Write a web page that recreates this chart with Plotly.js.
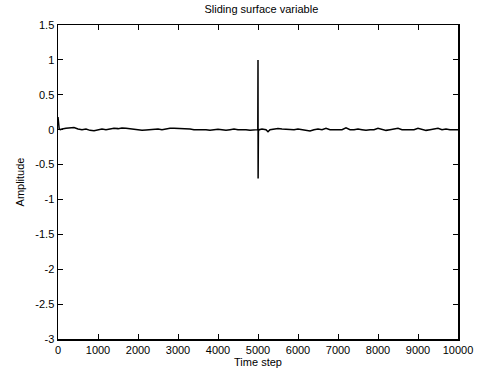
<!DOCTYPE html>
<html>
<head>
<meta charset="utf-8">
<script src="https://cdn.plot.ly/plotly-3.0.1.min.js"></script>
<style>html,body{margin:0;padding:0;background:#fff;}#chart{width:477px;height:374px;}</style>
</head>
<body>
<div id="chart"></div>
<script>
// Time steps and sliding surface amplitude
var timeStep = [0, 10, 30, 60, 100, 200, 300, 350, 400, 500, 600, 700, 800, 900, 1000, 1100, 1200, 1300, 1400, 1500, 1600, 1700, 1800, 1900, 2000, 2100, 2200, 2300, 2400, 2500, 2600, 2700, 2800, 2900, 3000, 3100, 3200, 3300, 3400, 3500, 3600, 3700, 3800, 3900, 4000, 4100, 4200, 4300, 4400, 4500, 4600, 4700, 4800, 4900, 4980, 4995, 5000, 5003, 5006, 5010, 5030, 5100, 5200, 5250, 5300, 5400, 5500, 5600, 5700, 5800, 5900, 6000, 6100, 6200, 6300, 6400, 6500, 6600, 6700, 6800, 6900, 7000, 7100, 7200, 7300, 7400, 7500, 7600, 7700, 7800, 7900, 8000, 8100, 8200, 8300, 8400, 8500, 8600, 8700, 8800, 8900, 9000, 9100, 9200, 9300, 9400, 9500, 9600, 9700, 9800, 9900, 10000];
var amplitude = [0.18, 0.05, 0.01, 0.0, 0.01, 0.02, 0.03, 0.035, 0.03, 0.01, 0.0, 0.01, -0.01, -0.015, 0.0, 0.01, 0.0, 0.01, 0.02, 0.015, 0.025, 0.02, 0.01, 0.0, 0.0, -0.01, -0.005, 0.0, 0.01, 0.01, 0.0, 0.015, 0.02, 0.02, 0.02, 0.015, 0.02, 0.01, 0.0, 0.0, 0.01, 0.0, -0.01, 0.0, 0.005, 0.0, -0.01, 0.0, 0.01, 0.0, 0.005, 0.0, -0.01, 0.0, 0.0, 0.0, 1.0, -0.7, -0.05, -0.02, 0.0, 0.01, 0.0, -0.03, 0.0, 0.01, 0.015, 0.01, 0.005, 0.01, 0.0, 0.01, 0.0, -0.01, -0.02, 0.0, 0.01, 0.0, 0.02, 0.0, 0.0, 0.01, 0.0, 0.025, 0.0, 0.0, 0.01, 0.0, -0.01, 0.0, 0.0, 0.02, 0.0, -0.01, 0.0, 0.01, 0.02, 0.0, 0.0, 0.01, 0.0, 0.02, 0.0, -0.01, 0.0, 0.01, 0.02, 0.0, 0.01, 0.0, 0.005, 0.0];
var xTicks = [0, 1000, 2000, 3000, 4000, 5000, 6000, 7000, 8000, 9000, 10000];
var yTicks = [-3, -2.5, -2, -1.5, -1, -0.5, 0, 0.5, 1, 1.5];
var yTickLabels = ['-3', '-2.5', '-2', '-1.5', '-1', '-0.5', '0', '0.5', '1', '1.5'];
var xTickLabels = xTicks.map(String);

var fontFam = 'Liberation Sans, Arial, sans-serif';
var trace = {
  x: timeStep, y: amplitude, type: 'scatter', mode: 'lines',
  line: {color: '#000000', width: 1.5}, hoverinfo: 'skip'
};
var axisCommon = {
  showgrid: false, zeroline: false, showline: true, mirror: 'ticks',
  linecolor: '#000', linewidth: 1.5, ticks: 'inside', ticklen: 5, tickcolor: '#000', tickwidth: 1,
  tickfont: {family: fontFam, size: 11, color: '#000'}
};
var layout = {
  width: 477, height: 374,
  margin: {l: 58, r: 19, t: 25, b: 35},
  paper_bgcolor: '#fff', plot_bgcolor: '#fff',
  showlegend: false,
  title: {text: 'Sliding surface variable', font: {family: fontFam, size: 11, color: '#000'}, x: 0.548, xanchor: 'center', y: 0.985, yanchor: 'top'},
  xaxis: Object.assign({}, axisCommon, {
    range: [0, 10000], tickvals: xTicks, ticktext: xTickLabels, ticklabelstandoff: 0,
    title: {text: 'Time step', font: {family: fontFam, size: 11, color: '#000'}, standoff: 2}
  }),
  yaxis: Object.assign({}, axisCommon, {
    range: [-3, 1.5], tickvals: yTicks, ticktext: yTickLabels,
    title: {text: 'Amplitude', font: {family: fontFam, size: 11, color: '#000'}, standoff: 8}
  })
};
Plotly.newPlot('chart', [trace], layout, {staticPlot: true, displayModeBar: false});
</script>
</body>
</html>
